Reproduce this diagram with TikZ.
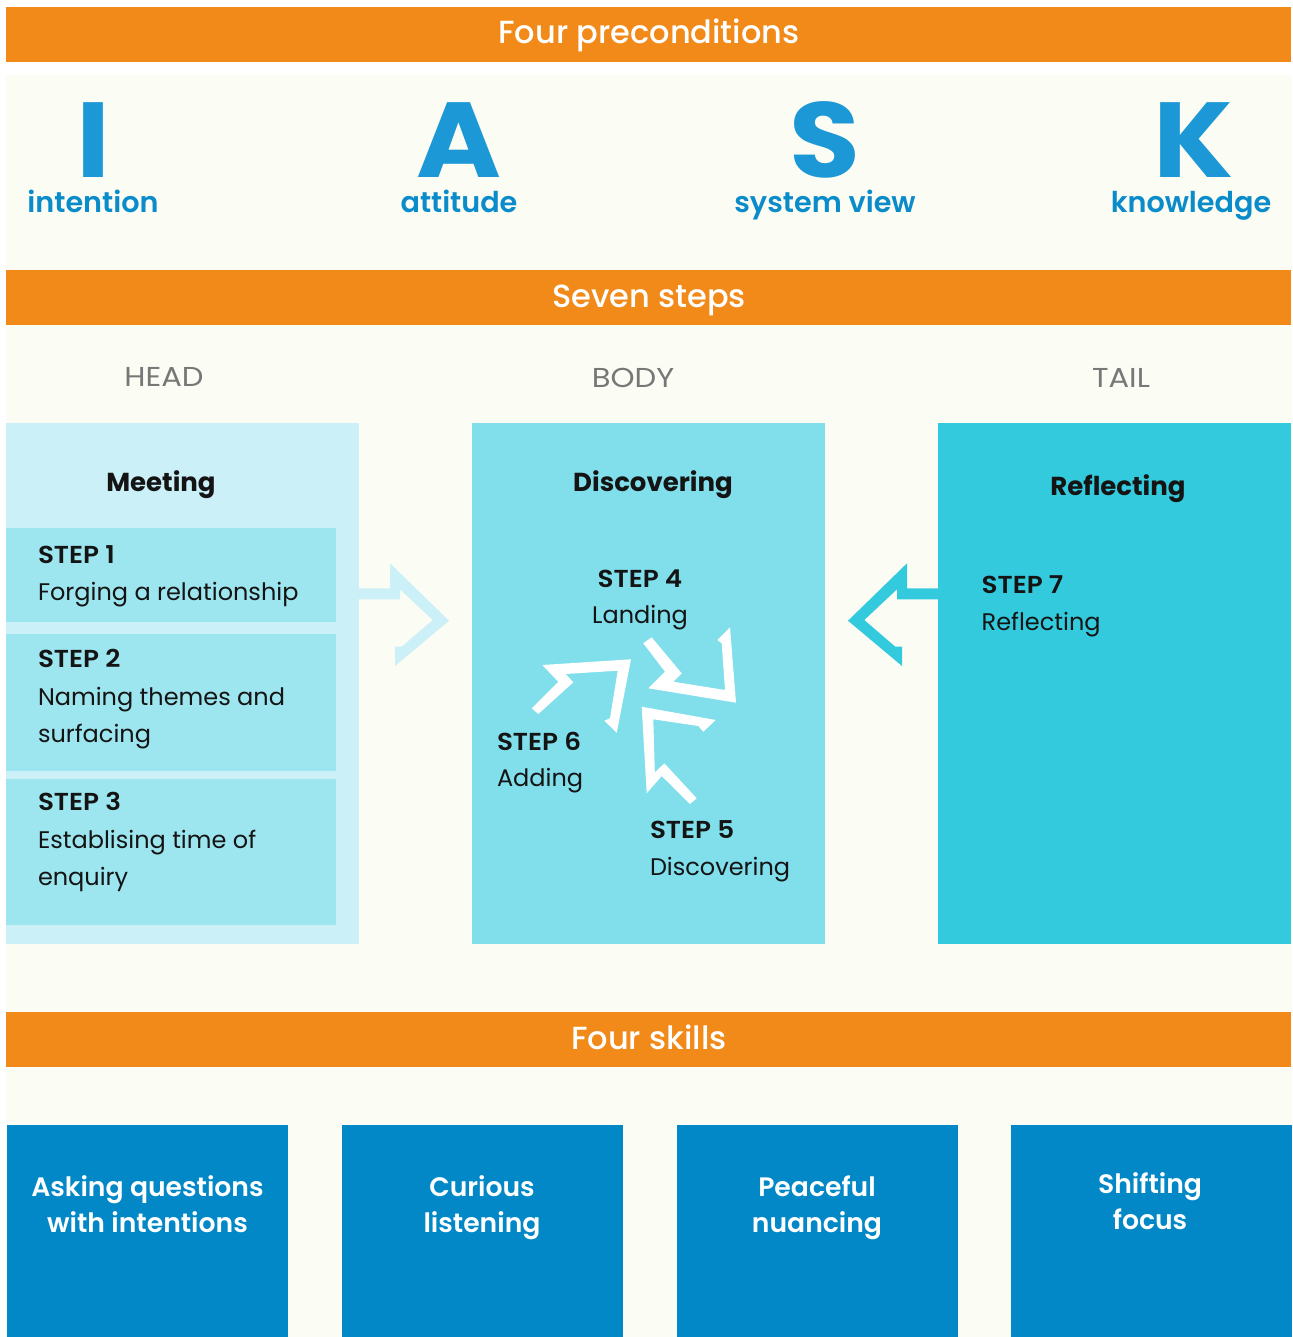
\documentclass[tikz,border=0pt]{standalone}
\usepackage{fontspec}
\setmainfont{Poppins}
\newfontfamily\pmed{Poppins Medium}
\newfontfamily\psemi{Poppins SemiBold}
\newfontfamily\psemiwide{Poppins SemiBold}[FakeStretch=1.07]
\newfontfamily\pbold{Poppins Bold}
\newfontfamily\pboldwide{Poppins Bold}[FakeStretch=1.08]
\newfontfamily\pwide{Poppins}[FakeStretch=1.12]
\definecolor{barorange}{HTML}{F28A1A}
\definecolor{offwhite}{HTML}{FBFCF4}
\definecolor{lightpanel}{HTML}{CBF0F7}
\definecolor{stepfill}{HTML}{9DE6EF}
\definecolor{midpanel}{HTML}{80DFEB}
\definecolor{rightpanel}{HTML}{34CADD}
\definecolor{skillblue}{HTML}{0288C6}
\definecolor{letterblue}{HTML}{1B98D5}
\definecolor{labelblue}{HTML}{0A8BCA}
\definecolor{ink}{HTML}{141414}
\definecolor{graytxt}{HTML}{777777}
\tikzset{
  tx/.style={inner sep=0pt, outer sep=0pt},
  bartitle/.style={tx, anchor=base, text=white, font=\pmed\fontsize{24}{28}\selectfont},
  bigletter/.style={tx, anchor=base, text height=56pt, text depth=0pt, text=letterblue, font=\pboldwide\fontsize{80}{90}\selectfont},
  lettercap/.style={tx, anchor=base, text height=16pt, text depth=5pt, text=labelblue, font=\psemi\fontsize{21.5}{26}\selectfont},
  parttxt/.style={tx, anchor=base, text=graytxt, font=\pwide\fontsize{20.5}{24}\selectfont},
  headtxt/.style={tx, anchor=base, text=ink, font=\pbold\fontsize{19.5}{24}\selectfont},
  steplabel/.style={tx, anchor=base west, text=ink, font=\psemiwide\fontsize{18.4}{22}\selectfont},
  stepbody/.style={tx, anchor=base west, text=ink, font=\fontsize{18}{22}\selectfont},
  skilltxt/.style={tx, anchor=base, text=white, font=\psemi\fontsize{20}{25}\selectfont},
  pinarrow/.style={fill=white},
}
\begin{document}
\begin{tikzpicture}[x=0.75pt,y=-0.75pt]
\useasboundingbox (0,0) rectangle (1292,1337);
\fill[white] (0,0) rectangle (1292,1337);
\fill[offwhite] (6,75) rectangle (1292,1337);
% orange bars
\fill[barorange] (6,7) rectangle (1291,62);
\fill[barorange] (6,270) rectangle (1291,325);
\fill[barorange] (6,1012) rectangle (1291,1067);
\node[bartitle] (bar1) at (649,44) {Four preconditions};
\node[bartitle] (bar2) at (649,307) {Seven steps};
\node[bartitle] (bar3) at (649,1049) {Four skills};
% IASK
\node[bigletter] (letI) at (93,177.5) {I};
\node[bigletter] (letA) at (459,177.5) {A};
\node[bigletter] (letS) at (825,177.5) {S};
\node[bigletter] (letK) at (1194,177.5) {K};
\node[lettercap] (capI) at (93,213) {intention};
\node[lettercap] (capA) at (459,213) {attitude};
\node[lettercap] (capS) at (825,213) {system view};
\node[lettercap] (capK) at (1191,213) {knowledge};
% part labels
\node[parttxt] (head) at (164,386) {HEAD};
\node[parttxt] (body) at (633,387.5) {BODY};
\node[parttxt] (tail) at (1121,387) {TAIL};
% panels
\fill[lightpanel] (6,423) rectangle (359,944);
\fill[stepfill] (6,528) rectangle (336,622);
\fill[stepfill] (6,634) rectangle (336,771);
\fill[stepfill] (6,779) rectangle (336,925);
\fill[midpanel] (472,423) rectangle (825,944);
\fill[rightpanel] (938,423) rectangle (1291,944);
% side arrows
\fill[lightpanel] (358,588.3) -- (390,588.3) -- (390,563.3) -- (449,620.7) -- (395,666) -- (395,646.7) -- (401.7,646.7) -- (432.7,620) -- (400,589.3) -- (400,599.3) -- (358,599.3) -- cycle;
\fill[rightpanel] (938,588.3) -- (907,588.3) -- (907,563.3) -- (848,620.7) -- (902,666) -- (902,646.7) -- (895.3,646.7) -- (864.3,620) -- (897,589.3) -- (897,599.3) -- (938,599.3) -- cycle;
% pinwheel arrows
\fill[pinarrow] (531.7,708.3) -- (558.3,681.7) -- (542.3,665) -- (631,659.3) -- (616.7,732.7) -- (604.3,720.7) -- (610,718.3) -- (617.7,670.7) -- (565.7,674) -- (573.3,682.3) -- (538.3,714) -- cycle;
\fill[pinarrow] (643.3,643.3) -- (651.7,637.3) -- (681.7,673.3) -- (673.3,681.7) -- (725,690) -- (721.7,643.3) -- (717.3,640) -- (730,627.3) -- (736,702.7) -- (648.3,688.3) -- (665,671.7) -- cycle;
\fill[pinarrow] (641.7,706.7) -- (715.7,720) -- (703.3,731.7) -- (698.3,726) -- (653.3,719.3) -- (654.8,772.5) -- (664.3,763.3) -- (696.7,798.3) -- (690,804) -- (661.7,776) -- (646.7,793.3) -- cycle;
% panel headings
\node[headtxt] (meeting) at (161,491) {Meeting};
\node[headtxt] (discovering) at (653,491) {Discovering};
\node[headtxt] (reflecting) at (1118,495) {Reflecting};
% steps head
\node[steplabel] (s1) at (38,563.3) {STEP 1};
\node[stepbody] (s1a) at (38,600) {Forging a relationship};
\node[steplabel] (s2) at (38,667.7) {STEP 2};
\node[stepbody] (s2a) at (38,705) {Naming themes and};
\node[stepbody] (s2b) at (38,742.7) {surfacing};
\node[steplabel] (s3) at (38,810) {STEP 3};
\node[stepbody] (s3a) at (38,848.3) {Establising time of};
\node[stepbody] (s3b) at (38,885) {enquiry};
% steps body
\node[steplabel, anchor=base] (s4) at (640,587) {STEP 4};
\node[stepbody, anchor=base] (s4a) at (640,623) {Landing};
\node[steplabel] (s6) at (497,750) {STEP 6};
\node[stepbody] (s6a) at (497,786.7) {Adding};
\node[steplabel] (s5) at (650,838) {STEP 5};
\node[stepbody] (s5a) at (650,875.5) {Discovering};
% step tail
\node[steplabel] (s7) at (981.7,593.3) {STEP 7};
\node[stepbody] (s7a) at (981.7,630) {Reflecting};
% skills
\fill[skillblue] (7,1125) rectangle (288,1337);
\fill[skillblue] (342,1125) rectangle (623,1337);
\fill[skillblue] (677,1125) rectangle (958,1337);
\fill[skillblue] (1011,1125) rectangle (1292,1337);
\node[skilltxt] (k1a) at (147.5,1196) {Asking questions};
\node[skilltxt] (k1b) at (147.5,1232.7) {with intentions};
\node[skilltxt] (k2a) at (482,1196) {Curious};
\node[skilltxt] (k2b) at (482,1232.7) {listening};
\node[skilltxt] (k3a) at (817,1196) {Peaceful};
\node[skilltxt] (k3b) at (817,1232.7) {nuancing};
\node[skilltxt] (k4a) at (1150,1193.3) {Shifting};
\node[skilltxt] (k4b) at (1150,1229.3) {focus};
\end{tikzpicture}
\end{document}
